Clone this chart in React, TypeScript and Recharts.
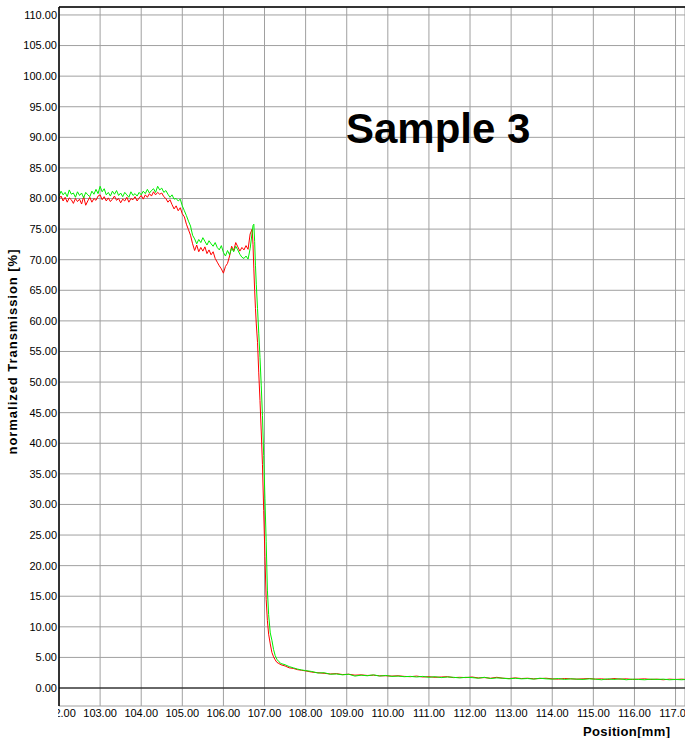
import React from "react";
import { LineChart, Line, XAxis, YAxis, CartesianGrid, ReferenceLine } from "recharts";

// positions [mm]
const positions = [
  102.0, 102.05, 102.1, 102.15, 102.2, 102.25, 102.3, 102.35, 102.4, 102.45,
  102.5, 102.55, 102.6, 102.65, 102.7, 102.75, 102.8, 102.85, 102.9, 102.95,
  103.0, 103.05, 103.1, 103.15, 103.2, 103.25, 103.3, 103.35, 103.4, 103.45,
  103.5, 103.55, 103.6, 103.65, 103.7, 103.75, 103.8, 103.85, 103.9, 103.95,
  104.0, 104.05, 104.1, 104.15, 104.2, 104.25, 104.3, 104.35, 104.4, 104.45,
  104.5, 104.55, 104.6, 104.65, 104.7, 104.75, 104.8, 104.85, 104.9, 104.95,
  105.0, 105.05, 105.1, 105.15, 105.2, 105.25, 105.3, 105.35, 105.4, 105.45,
  105.5, 105.55, 105.6, 105.65, 105.7, 105.75, 105.8, 105.85, 105.9, 105.95,
  106.0, 106.05, 106.1, 106.15, 106.2, 106.25, 106.3, 106.35, 106.4, 106.45,
  106.5, 106.55, 106.6, 106.65,
  106.7, 106.72, 106.74, 106.76, 106.78, 106.8, 106.83, 106.86, 106.89, 106.92,
  106.95, 106.98, 107.01, 107.04, 107.07, 107.1, 107.14, 107.18, 107.22, 107.26,
  107.3, 107.35, 107.4,
  107.5, 107.6, 107.7, 107.8, 107.9, 108.0, 108.15, 108.3, 108.45, 108.6,
  108.75, 108.9, 109.05, 109.2, 109.35, 109.5, 109.65, 109.8, 109.95, 110.1,
  110.25, 110.4, 110.55, 110.7, 110.85, 111.0, 111.15, 111.3, 111.45, 111.6,
  111.75, 111.9, 112.05, 112.2, 112.35, 112.5, 112.65, 112.8, 112.95, 113.1,
  113.25, 113.4, 113.55, 113.7, 113.85, 114.0, 114.15, 114.3, 114.45, 114.6,
  114.75, 114.9, 115.05, 115.2, 115.35, 115.5, 115.65, 115.8, 115.95, 116.1,
  116.25, 116.4, 116.55, 116.7, 116.85, 117.0, 117.15, 117.25,
];

const redValues = [
  80.0, 80.4, 79.6, 80.2, 79.4, 80.1, 79.8, 79.2, 80.0, 79.5,
  79.9, 79.1, 80.3, 78.9, 79.6, 80.2, 79.4, 80.0, 79.7, 80.4,
  80.6, 79.8, 80.3, 79.6, 80.1, 79.5, 79.9, 80.4, 79.7, 80.0,
  79.3, 79.9, 79.6, 80.2, 79.4, 80.0, 79.8, 80.3, 79.6, 80.1,
  80.5, 79.9, 80.6, 80.2, 80.8, 80.4, 81.1, 80.6, 81.0, 80.7,
  80.9, 80.3, 80.0, 79.4, 79.8, 79.0, 78.3, 78.8, 78.0, 78.5,
  77.5, 77.0, 75.8, 74.9, 74.0, 72.6, 71.5, 72.4, 71.3, 72.0,
  71.4, 72.1, 71.0, 71.6, 70.8, 71.3, 70.2, 69.6, 69.0, 68.5,
  67.8, 68.9, 69.4, 70.6, 72.2, 71.5, 72.8, 72.1, 71.4, 72.0,
  71.6, 72.3, 71.7, 74.2,
  75.0, 72.5, 68.5, 65.0, 62.0, 59.5, 56.5, 51.5, 47.0, 42.0,
  36.5, 29.0, 21.5, 14.5, 11.0, 8.8, 7.2, 5.8, 5.1, 4.6,
  4.2, 4.0, 3.8,
  3.6, 3.3, 3.2, 3.0, 2.9, 2.8, 2.6, 2.5, 2.4, 2.3,
  2.35, 2.2, 2.25, 2.1, 2.15, 2.05, 2.1, 2.0, 2.0, 1.95,
  2.0, 1.9, 1.85, 1.95, 1.8, 1.85, 1.75, 1.8, 1.85, 1.7,
  1.75, 1.7, 1.8, 1.65, 1.7, 1.6, 1.75, 1.6, 1.55, 1.65,
  1.55, 1.6, 1.5, 1.55, 1.6, 1.5, 1.45, 1.55, 1.5, 1.45,
  1.5, 1.55, 1.45, 1.5, 1.4, 1.55, 1.45, 1.5, 1.4, 1.45,
  1.5, 1.4, 1.45, 1.35, 1.45, 1.4, 1.45, 1.4,
];

const greenValues = [
  80.4, 81.2, 80.6, 81.0, 80.3, 81.4, 80.7, 80.9, 80.2, 81.1,
  80.5, 80.9, 80.1, 81.0, 80.6, 80.3, 81.2, 80.7, 81.5, 80.8,
  82.0, 81.1, 81.6, 80.6, 81.0, 80.4, 81.2, 80.7, 81.3, 80.5,
  80.9, 80.3, 81.0, 80.6, 80.2, 81.1, 80.5, 80.8, 80.4, 81.0,
  80.6, 81.2, 80.8, 81.5, 80.9, 81.3, 81.6, 81.0, 82.0, 81.4,
  81.7, 81.0, 81.3, 80.7, 80.2, 80.6, 79.9, 80.0, 79.6, 79.9,
  78.8, 78.0, 77.2, 76.3, 75.5, 74.0, 73.4, 72.6, 73.3, 72.8,
  73.6, 73.0, 72.4, 73.1, 72.6, 72.2, 72.8, 72.0, 71.6, 72.3,
  71.2, 70.6, 71.5, 70.8, 71.9, 71.3, 72.2, 71.6, 70.9, 70.4,
  70.2, 70.6, 70.1, 71.8,
  74.5, 75.6, 75.8, 73.0, 69.0, 66.0, 62.0, 58.0, 54.0, 49.5,
  44.5, 38.0, 31.0, 24.0, 16.0, 12.0, 9.0, 7.8, 6.3, 5.3,
  4.7, 4.3, 4.0,
  3.8, 3.5, 3.3, 3.1, 2.95, 2.85, 2.7, 2.45, 2.5, 2.25,
  2.3, 2.15, 2.25, 1.95, 2.1, 2.0, 2.15, 1.95, 2.05, 1.9,
  1.95, 1.85, 1.9, 1.8, 1.9, 1.75, 1.85, 1.7, 1.8, 1.75,
  1.65, 1.75, 1.7, 1.6, 1.75, 1.55, 1.65, 1.6, 1.5, 1.6,
  1.5, 1.55, 1.45, 1.6, 1.5, 1.45, 1.55, 1.4, 1.5, 1.45,
  1.4, 1.5, 1.45, 1.35, 1.5, 1.4, 1.5, 1.35, 1.45, 1.4,
  1.35, 1.45, 1.4, 1.45, 1.35, 1.4, 1.35, 1.4,
];

const xTicks = [102, 103, 104, 105, 106, 107, 108, 109, 110, 111, 112, 113, 114, 115, 116, 117];
const yTicks = [0, 5, 10, 15, 20, 25, 30, 35, 40, 45, 50, 55, 60, 65, 70, 75, 80, 85, 90, 95, 100, 105, 110];

const data = positions.map((p, i) => ({ pos: p, red: redValues[i], green: greenValues[i] }));

const FONT = "'Liberation Sans', Arial, sans-serif";

const XTick = (props: any) => {
  const { x, y, payload } = props;
  const id = `xclip-${payload.value}`;
  return (
    <g>
      <clipPath id={id}>
        <rect x={58} y={y - 2} width={700} height={20} />
      </clipPath>
      <text x={x} y={y + 11} textAnchor="middle" fontSize={11} fontFamily={FONT} fill="#000" clipPath={`url(#${id})`}>
        {Number(payload.value).toFixed(2)}
      </text>
    </g>
  );
};

export default function App() {
  return (
    <div style={{ position: "absolute", left: 0, top: 0, width: 685, height: 738, background: "#fff", overflow: "hidden" }}>
      <LineChart width={685} height={738} data={data} margin={{ top: 7, right: 0, bottom: 0, left: 0 }}>
        <CartesianGrid stroke="#a0a0a0" strokeWidth={1} />
        <XAxis
          dataKey="pos"
          type="number"
          domain={[102, 117.23]}
          ticks={xTicks}
          allowDataOverflow
          axisLine={false}
          tickLine={false}
          tickSize={0}
          tickMargin={0}
          height={32}
          tick={<XTick />}
          interval={0}
        />
        <YAxis
          type="number"
          domain={[-2.94, 111.3]}
          ticks={yTicks}
          allowDataOverflow
          width={59}
          axisLine={{ stroke: "#000", strokeWidth: 1.5 }}
          tickLine={false}
          tickSize={0}
          tickMargin={2}
          interval={0}
          tickFormatter={(v: number) => v.toFixed(2)}
          tick={{ fontSize: 11, fontFamily: FONT, fill: "#000" }}
        />
        <ReferenceLine y={111.3} stroke="#000" strokeWidth={1.5} />
        <ReferenceLine y={0} stroke="#000" strokeWidth={1.2} />
        <Line type="linear" dataKey="red" stroke="#ff0000" strokeWidth={1} dot={false} isAnimationActive={false} />
        <Line type="linear" dataKey="green" stroke="#00ee00" strokeWidth={1} dot={false} isAnimationActive={false} />
        <text x={346} y={143} fontSize={42} fontWeight="bold" fontFamily={FONT} fill="#000">
          Sample 3
        </text>
        <text
          x={17}
          y={352}
          transform="rotate(-90 17 352)"
          textAnchor="middle"
          fontSize={13}
          fontWeight="bold"
          fontFamily={FONT}
          fill="#000"
          textLength={205}
          lengthAdjust="spacing"
        >
          normalized Transmission [%]
        </text>
        <text x={583} y={736} fontSize={13} fontWeight="bold" fontFamily={FONT} fill="#000" textLength={87} lengthAdjust="spacing">
          Position[mm]
        </text>
      </LineChart>
    </div>
  );
}
